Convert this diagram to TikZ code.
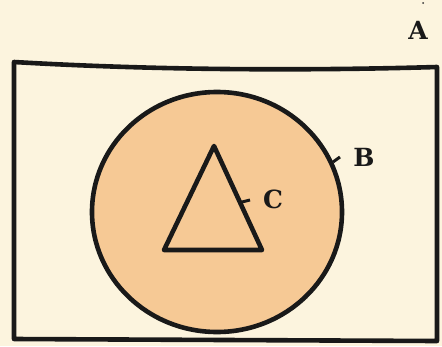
\documentclass[tikz,border=0pt]{standalone}
\usepackage{fontspec}
\setmainfont{DejaVu Serif}
\begin{document}
\begin{tikzpicture}[x=1pt,y=-1pt,
  ink/.style={draw=black!90,line width=4.6pt,line join=round},
  lbl/.style={font=\fontsize{25}{28}\selectfont\bfseries,text=black!90,inner sep=0pt},
  tick/.style={draw=black!90,line width=3pt}]
\definecolor{paper}{HTML}{FCF4DE}
\definecolor{peach}{HTML}{F6C995}
\fill[paper] (0,0) rectangle (442,346);
\useasboundingbox (0,0) rectangle (442,346);
% rectangle A
\draw[ink] (14,62) .. controls (150,70) and (300,71) .. (437,67) -- (437,341) -- (14,339) -- cycle;
% circle B
\draw[ink,fill=peach] (217,212) ellipse [x radius=125, y radius=120];
% triangle C
\draw[ink] (214,146) -- (262,250) -- (164,250) -- cycle;
\coordinate (cb) at (333,162);
\coordinate (cbe) at (340,157);
\draw[tick] (cb) -- (cbe);
\coordinate (cc) at (242,202);
\coordinate (cce) at (250,200);
\draw[tick] (cc) -- (cce);
\node[lbl] (A) at (418,30) {A};
\node[lbl] (B) at (364,157) {B};
\node[lbl] (C) at (273,199) {C};
\fill[black!80] (423,3) circle (1pt);
\end{tikzpicture}
\end{document}
